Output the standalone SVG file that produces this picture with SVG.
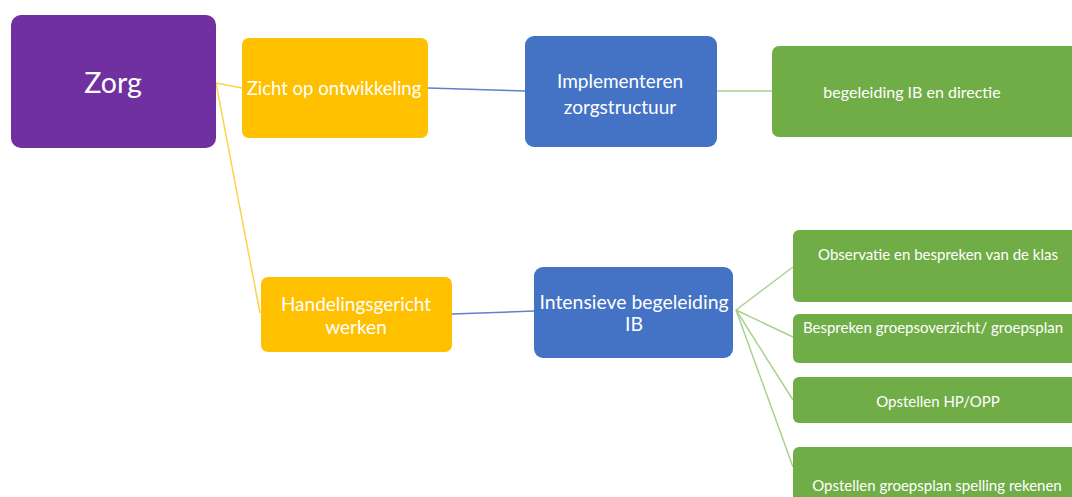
<svg xmlns="http://www.w3.org/2000/svg" width="1072" height="497" viewBox="0 0 1072 497">
<style>
.t{font-family:Lato,"Open Sans","Liberation Sans",sans-serif;fill:#fff;text-anchor:middle;dominant-baseline:central}
.purple{fill:#7030A0}.yellow{fill:#FFC000}.blue{fill:#4472C4}.green{fill:#70AD47}
.cy{stroke:#FFD24D;stroke-width:1.5;fill:none}.cb{stroke:#5B84CC;stroke-width:1.5;fill:none}.cg{stroke:#A9D18E;stroke-width:1.5;fill:none}
</style>
<rect width="1072" height="497" fill="#fff"/>
<g id="connectors">
<line class="cy" x1="216" y1="83" x2="242" y2="88"/>
<line class="cy" x1="216" y1="83" x2="260" y2="313"/>
<line class="cb" x1="428" y1="88" x2="525" y2="91"/>
<line class="cg" x1="717" y1="91" x2="772" y2="91"/>
<line class="cb" x1="452" y1="314" x2="534" y2="311"/>
<line class="cg" x1="736" y1="310" x2="793" y2="267"/>
<line class="cg" x1="736" y1="310" x2="793" y2="337"/>
<line class="cg" x1="736" y1="310" x2="793" y2="400"/>
<line class="cg" x1="736" y1="310" x2="793" y2="467"/>
</g>
<g id="zorg"><rect class="purple" x="11" y="15" width="205" height="133" rx="10"/><text class="t" x="113" y="82" font-size="28.5">Zorg</text></g>
<g id="zicht"><rect class="yellow" x="242" y="38" width="186" height="100" rx="7"/><text class="t" x="334" y="88" font-size="18.5">Zicht op ontwikkeling</text></g>
<g id="handelingsgericht"><rect class="yellow" x="261" y="277" width="191" height="75" rx="7"/><text class="t" x="356" y="303" font-size="19">Handelingsgericht</text><text class="t" x="356" y="326" font-size="19">werken</text></g>
<g id="implementeren"><rect class="blue" x="525" y="36" width="192" height="111" rx="9"/><text class="t" x="620" y="80" font-size="19">Implementeren</text><text class="t" x="620" y="106" font-size="19">zorgstructuur</text></g>
<g id="intensieve"><rect class="blue" x="534" y="267" width="199" height="91" rx="9"/><text class="t" x="634" y="301" font-size="19.4">Intensieve begeleiding</text><text class="t" x="634" y="323" font-size="19.4">IB</text></g>
<g id="begeleiding"><rect class="green" x="772" y="46" width="310" height="91" rx="7"/><text class="t" x="912" y="91" font-size="16">begeleiding IB en directie</text></g>
<g id="observatie"><rect class="green" x="793" y="230" width="290" height="72" rx="6"/><text class="t" x="938" y="254" font-size="15">Observatie en bespreken van de klas</text></g>
<g id="bespreken"><rect class="green" x="793" y="314" width="290" height="49" rx="6"/><text class="t" x="933" y="327" font-size="15">Bespreken groepsoverzicht/ groepsplan</text></g>
<g id="opstellenhp"><rect class="green" x="793" y="377" width="290" height="46" rx="6"/><text class="t" x="938" y="401" font-size="15">Opstellen HP/OPP</text></g>
<g id="opstellengroepsplan"><rect class="green" x="793" y="447" width="290" height="70" rx="6"/><text class="t" x="937" y="485" font-size="15">Opstellen groepsplan spelling rekenen</text></g>
</svg>
